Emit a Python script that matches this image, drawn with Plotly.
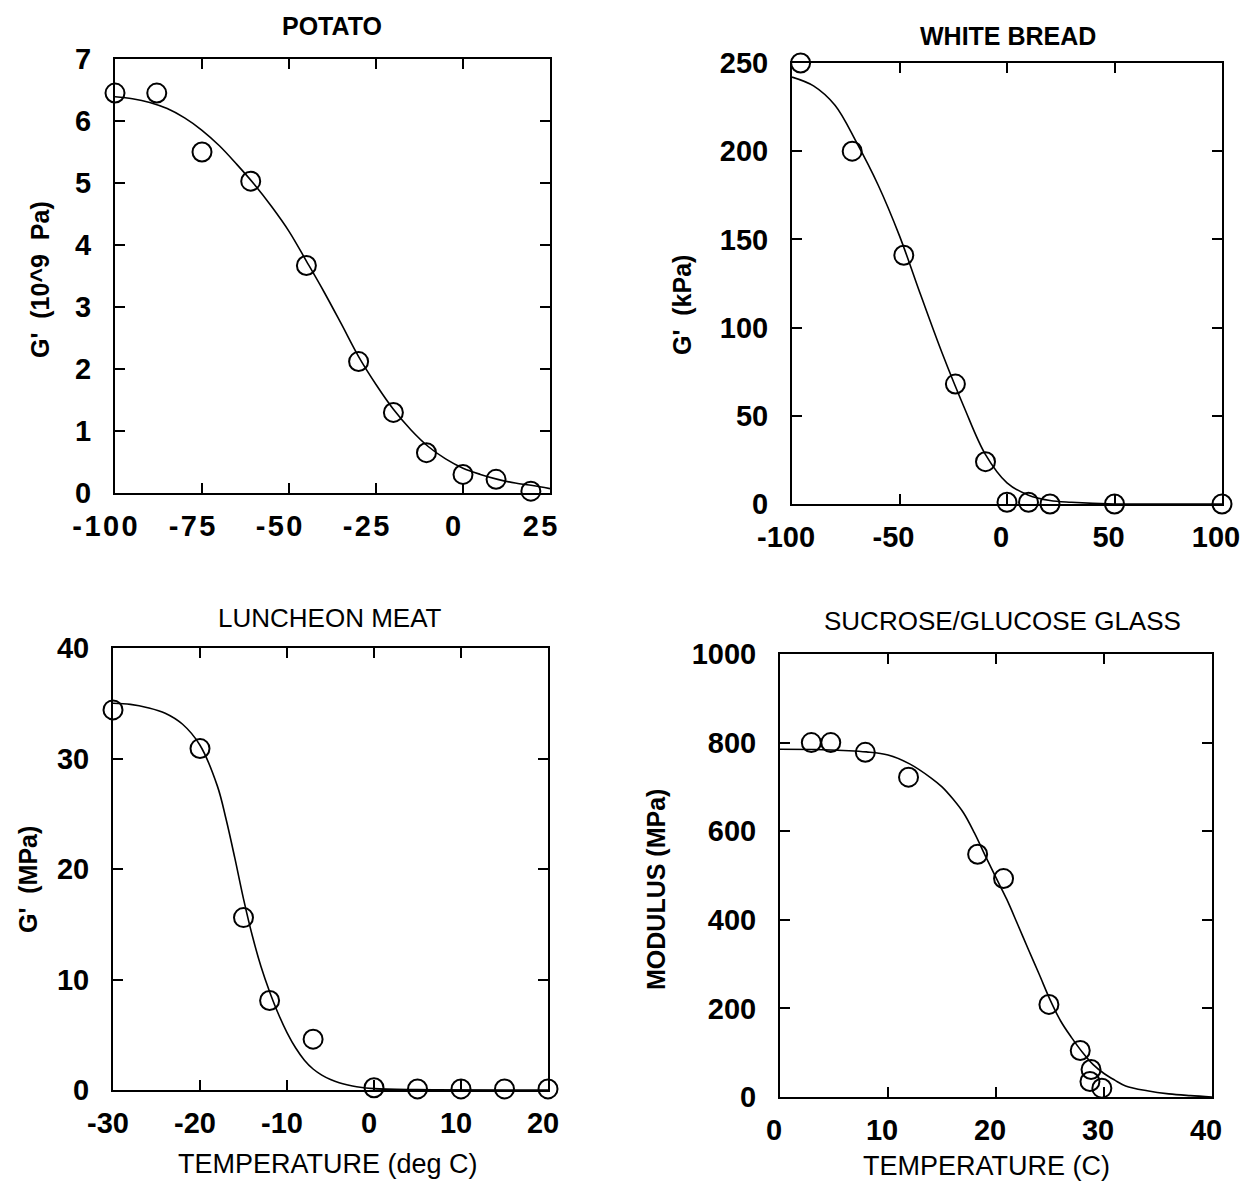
import plotly.graph_objects as go

W, H = 1248, 1184

# ---------------- DATA ----------------
# POTATO (G' in 10^9 Pa)
potato_t = [-100, -88, -75, -61, -45, -30, -20, -10.5, 0, 9.5, 19.5]
potato_g = [6.45, 6.45, 5.5, 5.03, 3.67, 2.12, 1.3, 0.65, 0.3, 0.22, 0.03]
potato_fit_t = [-100, -95, -90, -85, -80, -75, -70, -65, -60, -55, -50, -45, -40, -35, -30,
                -25, -20, -15, -10, -5, 0, 5, 10, 15, 20, 25]
potato_fit_g = [6.39, 6.36, 6.3, 6.2, 6.05, 5.85, 5.6, 5.3, 4.98, 4.62, 4.22, 3.74, 3.25, 2.73, 2.2,
                1.75, 1.35, 1.02, 0.75, 0.55, 0.4, 0.3, 0.22, 0.16, 0.12, 0.07]

# WHITE BREAD (G' in kPa)
bread_t = [-96, -72, -48, -24, -10, 0, 10, 20, 50, 100]
bread_g = [250, 200, 141, 68, 24, 1, 1, 0, 0, 0]
bread_fit_t = [-100, -90, -80, -70, -60, -50, -40, -30, -20, -10, 0, 10, 20, 30, 50, 75, 100]
bread_fit_g = [242, 237, 226, 205, 181, 152, 118, 85, 55, 28, 12, 5, 2, 1, 0, 0, 0]

# LUNCHEON MEAT (G' in MPa)
meat_t = [-30, -20, -15, -12, -7, 0, 5, 10, 15, 20]
meat_g = [34.4, 30.9, 15.6, 8.1, 4.6, 0.2, 0.1, 0.1, 0.1, 0.1]
meat_fit_t = [-30, -28, -26, -24, -22, -20, -18, -17, -16, -15, -14, -13, -12, -11, -10,
              -9, -8, -7, -6, -5, -4, -3, -2, 0, 5, 20]
meat_fit_g = [35, 34.9, 34.6, 34.1, 33.1, 31.2, 27.5, 24.5, 21, 17.3, 14, 11.2, 8.9, 6.9, 5.2,
              3.8, 2.7, 1.9, 1.35, 0.95, 0.65, 0.45, 0.3, 0.12, 0.03, 0]

# SUCROSE/GLUCOSE GLASS (modulus in MPa)
glass_t = [2.9, 4.7, 7.9, 11.9, 18.3, 20.7, 24.9, 27.8, 28.8, 28.7, 29.8]
glass_m = [800, 800, 778, 722, 548, 493, 209, 105, 62, 35, 20]
glass_fit_t = [0, 4, 8, 10, 12, 14, 15, 16, 17, 18, 19, 20, 21, 22, 23, 24, 25, 26, 27, 28,
               29, 30, 31, 32, 34, 36, 38, 40]
glass_fit_m = [785, 784, 779, 772, 752, 720, 700, 673, 641, 596, 545, 495, 446, 390, 333, 277,
               220, 171, 134, 101, 73, 53, 38, 25, 14, 7, 3, 0]

# Tick values
potato_xticks = [-100, -75, -50, -25, 0, 25]
potato_yticks = [0, 1, 2, 3, 4, 5, 6, 7]
bread_xticks = [-100, -50, 0, 50, 100]
bread_yticks = [0, 50, 100, 150, 200, 250]
meat_xticks = [-30, -20, -10, 0, 10, 20]
meat_yticks = [0, 10, 20, 30, 40]
glass_xticks = [0, 10, 20, 30, 40]
glass_yticks = [0, 200, 400, 600, 800, 1000]

# ---------------- FIGURE ----------------
FONT = "Liberation Sans, Arial, sans-serif"

def px_x(p):
    return p / W

def px_y(p):
    return 1 - p / H

panels = [
    (potato_t, potato_g, potato_fit_t, potato_fit_g, (115, 550), (59, 493), [-100, 25], [0, 7],
     potato_xticks, potato_yticks, True, -10),
    (bread_t, bread_g, bread_fit_t, bread_fit_g, (792, 1222), (63, 504), [-100, 100], [0, 250],
     bread_xticks, bread_yticks, False, -6),
    (meat_t, meat_g, meat_fit_t, meat_fit_g, (113, 548), (648, 1090), [-30, 20], [0, 40],
     meat_xticks, meat_yticks, False, -5),
    (glass_t, glass_m, glass_fit_t, glass_fit_m, (780, 1212), (654, 1097), [0, 40], [0, 1000],
     glass_xticks, glass_yticks, False, -6),
]

fig = go.Figure()
layout = dict(
    template="none",
    width=W, height=H,
    margin=dict(l=0, r=0, t=0, b=0, autoexpand=False),
    paper_bgcolor="white", plot_bgcolor="white",
    showlegend=False,
    font=dict(family=FONT, color="black"),
)

def lab(v, spaced=False):
    s = str(v)
    if spaced:
        s = "\u200a".join(s)
    return s

for i, (xd, yd, fx, fy, xdom, ydom, xr, yr, xt, yt, spaced, xshift) in enumerate(panels, start=1):
    xa = "x" if i == 1 else f"x{i}"
    ya = "y" if i == 1 else f"y{i}"
    fig.add_trace(go.Scatter(x=fx, y=fy, mode="lines",
                             line=dict(color="black", width=1.6, shape="spline", smoothing=1.0),
                             xaxis=xa, yaxis=ya, hoverinfo="skip", cliponaxis=False))
    fig.add_trace(go.Scatter(x=xd, y=yd, mode="markers",
                             marker=dict(symbol="circle-open", size=19, color="black", line=dict(width=2)),
                             xaxis=xa, yaxis=ya, cliponaxis=False))
    axcommon = dict(showline=True, linecolor="black", linewidth=2, mirror="ticks",
                    ticks="inside", ticklen=10, tickwidth=2, tickcolor="black",
                    showgrid=False, zeroline=False, automargin=False,
                    tickfont=dict(family=FONT, size=29, color="black", weight="bold"))
    layout["xaxis" if i == 1 else f"xaxis{i}"] = dict(
        axcommon, domain=[px_x(xdom[0]), px_x(xdom[1])], range=xr,
        tickvals=xt, ticktext=[lab(v, spaced) for v in xt], anchor=ya,
        ticklabelstandoff=6, ticklabelshift=xshift)
    layout["yaxis" if i == 1 else f"yaxis{i}"] = dict(
        axcommon, domain=[px_y(ydom[1]), px_y(ydom[0])], range=yr,
        tickvals=yt, ticktext=[lab(v) for v in yt], anchor=xa, ticklabelstandoff=16)

fig.update_layout(**layout)

def ann(text, x, y, size, bold=True, angle=0):
    fig.add_annotation(text=text, x=px_x(x), y=px_y(y), xref="paper", yref="paper",
                       showarrow=False, textangle=angle, xanchor="center", yanchor="middle",
                       font=dict(family=FONT, size=size, color="black", weight="bold" if bold else "normal"))

# Panel titles
ann("POTATO", 332, 26, 25)
ann("WHITE BREAD", 1008, 36, 25)
ann("LUNCHEON MEAT", 330, 618, 26, bold=False)
ann("SUCROSE/GLUCOSE GLASS", 1002, 621, 26, bold=False)

# Axis titles
ann("G'  (10^9  Pa)", 40, 280, 25, angle=-90)
ann("G'  (kPa)", 682, 305, 25, angle=-90)
ann("G'  (MPa)", 28, 880, 25, angle=-90)
ann("MODULUS (MPa)", 656, 890, 25, angle=-90)
ann("TEMPERATURE (deg C)", 328, 1164, 27, bold=False)
ann("TEMPERATURE (C)", 986, 1166, 27, bold=False)

fig.write_html("out.html")
